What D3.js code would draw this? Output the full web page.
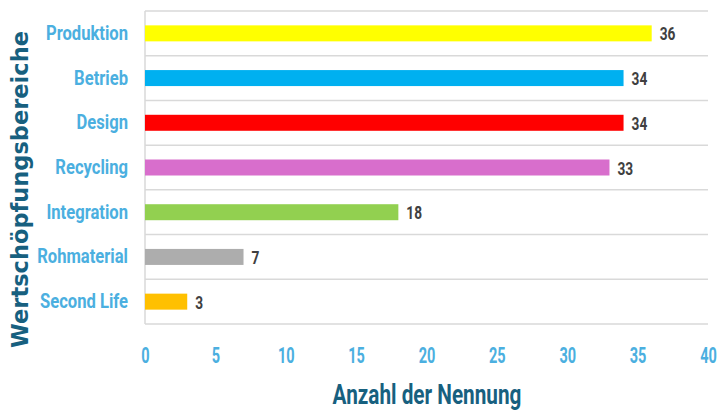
<!DOCTYPE html>
<html><head><meta charset="utf-8">
<script src="https://cdn.jsdelivr.net/npm/d3@7"></script>
<style>
body{margin:0;background:#fff;}
svg{display:block;}
.nar{font-family:Roboto,"Liberation Sans",sans-serif;font-weight:bold;}
</style></head>
<body><svg id="c" width="718" height="410"></svg>
<script>
const categories = ["Produktion","Betrieb","Design","Recycling","Integration","Rohmaterial","Second Life"];
const values = [36,34,34,33,18,7,3];
const colors = ["#FFFF00","#00B0F0","#FF0000","#D86ECC","#92D050","#ADADAD","#FFC000"];
const xTicks = [0,5,10,15,20,25,30,35,40];
const xTitle = "Anzahl der Nennung";
const yTitle = "Wertschöpfungsbereiche";

const svg = d3.select("#c");
const L = 145, R = 708, T = 11, B = 324;
const x = d3.scaleLinear().domain([0,40]).range([L,R]);
const y = d3.scaleBand().domain(categories).range([T,B]).paddingInner(0).paddingOuter(0);

function condense(sel, f){
  sel.each(function(){
    const w = this.getComputedTextLength();
    this.setAttribute("textLength", w*f);
    this.setAttribute("lengthAdjust","spacingAndGlyphs");
  });
}

// horizontal grid lines (band boundaries)
const bounds = categories.map(c=>y(c)).concat([B]);
svg.append("g").selectAll("line").data(bounds).join("line")
  .attr("x1",L).attr("x2",R).attr("y1",d=>d).attr("y2",d=>d)
  .attr("stroke","#d9d9d9").attr("stroke-width",1.5);
svg.append("line").attr("x1",L).attr("x2",L).attr("y1",T).attr("y2",B)
  .attr("stroke","#d9d9d9").attr("stroke-width",1.5);

const bh = 16;
svg.append("g").selectAll("rect").data(categories).join("rect")
  .attr("x",x(0)).attr("width",(d,i)=>x(values[i])-x(0))
  .attr("y",d=>y(d)+y.bandwidth()/2-bh/2).attr("height",bh)
  .attr("fill",(d,i)=>colors[i]);

// value labels
svg.append("g").selectAll("text").data(categories).join("text")
  .attr("class","nar")
  .attr("x",(d,i)=>x(values[i])+8).attr("y",d=>y(d)+y.bandwidth()/2+7)
  .attr("font-size",19).attr("fill","#404040")
  .text((d,i)=>values[i])
  .call(condense,0.72);

// category labels
const yAxis = d3.axisLeft(y).tickSize(0).tickPadding(17);
const gy = svg.append("g").attr("transform",`translate(${L},0)`).call(yAxis);
gy.select(".domain").remove();
gy.selectAll("text").attr("class","nar").attr("font-size",21).attr("fill","#4BAFE0")
  .attr("dy",null).attr("y",6.5).call(condense,0.79);

// x tick labels (condensed via horizontal scale)
const xAxis = d3.axisBottom(x).tickValues(xTicks).tickSize(0).tickPadding(0);
const gx = svg.append("g").attr("transform",`translate(0,363)`).call(xAxis);
gx.select(".domain").remove();
gx.selectAll("text").attr("class","nar").attr("font-size",22).attr("fill","#4BAFE0")
  .attr("dy",null).attr("y",0).attr("transform","scale(0.66,1)");

// titles
svg.append("text").attr("class","nar").attr("x",427).attr("y",404)
  .attr("text-anchor","middle").attr("font-size",28).attr("fill","#17607F").text(xTitle)
  .call(condense,0.74);
svg.append("text").attr("transform",`translate(28,${(T+B)/2+22}) rotate(-90)`)
  .attr("text-anchor","middle").attr("font-family","DejaVu Sans, Verdana, sans-serif")
  .attr("font-weight","bold").attr("font-size",22.5).attr("fill","#17607F").text(yTitle);
</script></body></html>
